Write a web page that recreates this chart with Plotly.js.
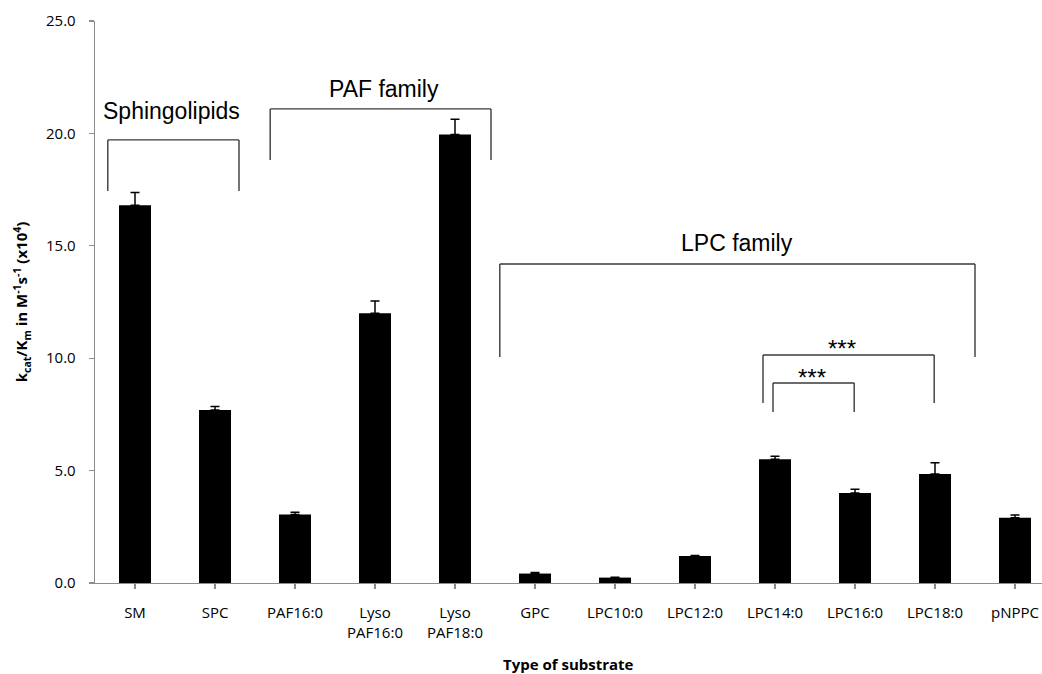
<!DOCTYPE html>
<html>
<head>
<meta charset="utf-8">
<script src="https://cdn.plot.ly/plotly-3.0.1.min.js"></script>
<style>html,body{margin:0;padding:0;background:#fff;overflow:hidden}</style>
</head>
<body>
<div id="chart" style="width:1042px;height:674px"></div>
<script>
// categories (tick labels)
var categories = ["SM", "SPC", "PAF16:0", "Lyso<br>PAF16:0", "Lyso<br>PAF18:0", "GPC",
                  "LPC10:0", "LPC12:0", "LPC14:0", "LPC16:0", "LPC18:0", "pNPPC"];
// kcat/Km values (x10^4 M^-1 s^-1)
var values = [16.8, 7.7, 3.05, 12.0, 19.95, 0.42, 0.24, 1.2, 5.5, 4.0, 4.85, 2.9];
// upper error bars
var errors = [0.57, 0.15, 0.1, 0.55, 0.68, 0.05, 0.02, 0.02, 0.14, 0.17, 0.5, 0.12];
var errorsMinus = [0, 0, 0, 0, 0, 0, 0, 0, 0, 0, 0, 0];

// axis titles
var xTitle = "<b>Type of substrate</b>";
var yTitle = "<b>k<sub>cat</sub>/K<sub>m</sub> in M<sup>-1</sup>s<sup>-1</sup> (x10<sup>4</sup>)</b>";

// group brackets (category-index units and value units)
var groupLabels = ["Sphingolipids", "PAF family", "LPC family"];
var groupX0 = [-0.34, 1.69, 4.56];
var groupX1 = [1.30, 4.45, 10.5];
var groupTop = [19.71, 21.09, 14.19];
var groupBottom = [17.44, 18.82, 10.05];
var groupLabelX = [0.45, 3.11, 7.53];
var groupLabelY = [21.0, 21.98, 15.12];

// significance brackets
var sigLabels = ["***", "***"];
var sigX0 = [7.85, 7.975];
var sigX1 = [9.99, 8.99];
var sigTop = [10.14, 8.90];
var sigBottom = [8.01, 7.61];

var idx = categories.map(function (c, i) { return i; });

var trace = {
  type: "bar",
  x: idx,
  y: values,
  width: 0.4,
  marker: {color: "#000000", line: {width: 0}},
  error_y: {
    type: "data", symmetric: false, array: errors, arrayminus: errorsMinus,
    color: "#000000", thickness: 1.5, width: 4.5, visible: true
  },
  hoverinfo: "x+y"
};

var shapes = [];
var annotations = [];
var lineStyle = {color: "#3a3a3a", width: 1.4};
function bracket(x0, x1, top, bottom) {
  shapes.push({type: "line", xref: "x", yref: "y", x0: x0, x1: x1, y0: top, y1: top, line: lineStyle});
  shapes.push({type: "line", xref: "x", yref: "y", x0: x0, x1: x0, y0: top, y1: bottom, line: lineStyle});
  shapes.push({type: "line", xref: "x", yref: "y", x0: x1, x1: x1, y0: top, y1: bottom, line: lineStyle});
}
for (var i = 0; i < groupLabels.length; i++) {
  bracket(groupX0[i], groupX1[i], groupTop[i], groupBottom[i]);
  annotations.push({
    xref: "x", yref: "y", x: groupLabelX[i], y: groupLabelY[i], text: groupLabels[i],
    showarrow: false, xanchor: "center", yanchor: "middle",
    font: {family: "Liberation Sans, Arial, sans-serif", size: 23, color: "#000"}
  });
}
for (var j = 0; j < sigLabels.length; j++) {
  bracket(sigX0[j], sigX1[j], sigTop[j], sigBottom[j]);
  annotations.push({
    xref: "x", yref: "y", x: (sigX0[j] + sigX1[j]) / 2 + (j === 0 ? -0.08 : -0.02), y: sigTop[j], text: sigLabels[j],
    showarrow: false, xanchor: "center", yanchor: "bottom", yshift: (j === 0 ? -9 : -10),
    font: {family: "Liberation Sans, Arial, sans-serif", size: 24, color: "#000"}
  });
}
// x-axis title placed as a paper annotation near the bottom edge
annotations.push({
  xref: "paper", yref: "paper", x: 0.5, y: -0.144, text: xTitle,
  showarrow: false, xanchor: "center", yanchor: "middle",
  font: {family: "Open Sans, sans-serif", size: 15, color: "#000"}
});

var tickFont = {family: "Open Sans, sans-serif", size: 15, color: "#000"};

var layout = {
  width: 1042, height: 674,
  margin: {l: 95, r: 0, t: 21, b: 91, pad: 0},
  paper_bgcolor: "#ffffff", plot_bgcolor: "#ffffff",
  showlegend: false,
  bargap: 0.6,
  xaxis: {
    tickmode: "array", tickvals: idx, ticktext: categories,
    range: [-0.5, (1042 - 95) / 80 - 0.5],
    showline: true, linecolor: "#8c8c8c", linewidth: 1.3,
    ticks: "outside", tickson: "boundaries", ticklen: 5, tickcolor: "#8c8c8c", tickwidth: 1.3,
    showgrid: false, zeroline: false,
    tickfont: tickFont, ticklabelstandoff: 11,
    fixedrange: true
  },
  yaxis: {
    range: [0, 25], tickvals: [0, 5, 10, 15, 20, 25],
    ticktext: ["0.0", "5.0", "10.0", "15.0", "20.0", "25.0"],
    showline: true, linecolor: "#8c8c8c", linewidth: 1.3,
    ticks: "outside", ticklen: 5, tickcolor: "#8c8c8c", tickwidth: 1.3,
    showgrid: false, zeroline: false,
    tickfont: tickFont, ticklabelstandoff: 10,
    title: {
      text: yTitle,
      font: {family: "Open Sans, sans-serif", size: 15, color: "#000"}, standoff: 14
    },
    fixedrange: true
  },
  shapes: shapes,
  annotations: annotations
};

Plotly.newPlot("chart", [trace], layout, {displayModeBar: false, staticPlot: true});
</script>
</body>
</html>
